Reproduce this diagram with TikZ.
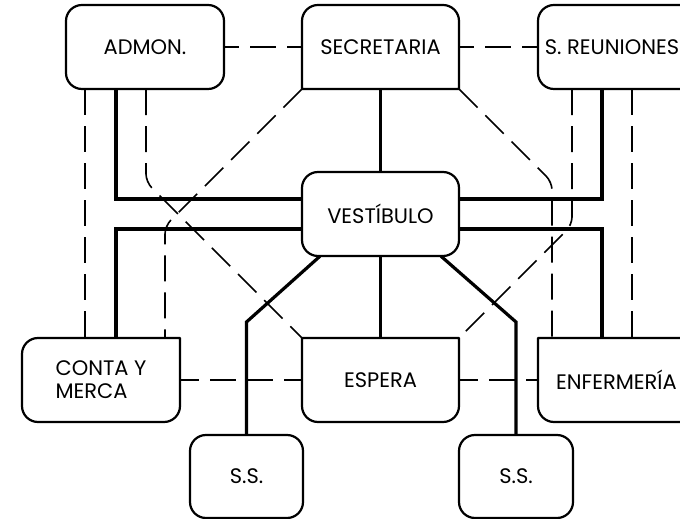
\documentclass[tikz,border=0pt]{standalone}
\usepackage{fontspec}
\setmainfont{Poppins}
\newcommand\rr{16}
\newcommand\roomoutline[8]{%
  \edef\roompath{%
    \ifnum#5=1 (#1,#4-\rr) arc[start angle=180,end angle=90,radius=\rr pt] \else (#1,#4) \fi
    -- \ifnum#6=1 (#3-\rr,#4) arc[start angle=90,end angle=0,radius=\rr pt] \else (#3,#4) \fi
    -- \ifnum#7=1 (#3,#2+\rr) arc[start angle=0,end angle=-90,radius=\rr pt] \else (#3,#2) \fi
    -- \ifnum#8=1 (#1+\rr,#2) arc[start angle=270,end angle=180,radius=\rr pt] \else (#1,#2) \fi
    -- cycle}%
  \draw[boxline] \roompath;}
\tikzset{
  boxline/.style={line width=2.2pt, line join=round},
  room/.style={inner sep=0pt, font=\fontsize{21}{23}\selectfont, align=left},
  dashline/.style={line width=1.6pt, dash pattern=on 26pt off 11pt},
  shortdash/.style={dashline, dash phase=11pt},
  thickline/.style={line width=3.2pt},
  midline/.style={line width=2.8pt}
}
\begin{document}
\begin{tikzpicture}[x=1pt,y=1pt]
\useasboundingbox (0,0) rectangle (680,519);
\clip (0,0) rectangle (680,519);
% nodes
\node[room, minimum width=158pt, minimum height=84pt] (admon) at (145,472) {ADMON.};
\node[room, minimum width=157pt, minimum height=84pt] (sec) at (380.5,472) {SECRETARIA};
\node[room, minimum width=148pt, minimum height=84pt] (sreu) at (612,472) {S. REUNIONES};
\node[room, minimum width=157pt, minimum height=84pt] (vest) at (380.5,305) {VESTÍBULO};
\node[room, minimum width=158pt, minimum height=84pt] (conta) at (101,139) {CONTA Y\\MERCA};
\node[room, minimum width=157pt, minimum height=84pt] (espera) at (380.5,139) {ESPERA};
\node[room, minimum width=157pt, minimum height=84pt] (enf) at (616.5,139) {ENFERMERÍA};
\node[room, minimum width=113pt, minimum height=83pt] (ssl) at (246.5,42.5) {S.S.};
\node[room, minimum width=114pt, minimum height=83pt] (ssr) at (516,42.5) {S.S.};
% outlines
\roomoutline{66}{430}{224}{514}{1}{1}{1}{1}
\roomoutline{302}{430}{459}{514}{1}{1}{0}{0}
\roomoutline{538}{430}{695}{514}{1}{1}{1}{1}
\roomoutline{302}{263}{459}{347}{1}{1}{1}{1}
\roomoutline{22}{97}{180}{181}{1}{0}{1}{1}
\roomoutline{302}{97}{459}{181}{0}{0}{1}{1}
\roomoutline{538}{97}{695}{181}{0}{1}{1}{1}
\roomoutline{190}{1}{303}{84}{1}{1}{1}{1}
\roomoutline{459}{1}{573}{84}{1}{1}{1}{1}
% connectors
\draw[shortdash] (admon.east) -- (sec.west);
\draw[shortdash] (sec.east) -- (sreu.west);
\draw[dashline] (85,0 |- admon.south) -- (85,0 |- conta.north);
\draw[thickline] (116,0 |- admon.south) |- (vest.west |- 0,320);
\draw[thickline] (vest.west |- 0,290) -| (116,0 |- conta.north);
\draw[dashline, rounded corners=8pt] (146,0 |- admon.south) -- (146,337) -- (espera.north west);
\draw[dashline, rounded corners=8pt] (sec.south west) -- (165,293) -- (165,0 |- conta.north);
\draw[midline] (sec.south) -- (vest.north);
\draw[dashline, rounded corners=8pt] (sec.south east) -- (552,337) -- (552,0 |- enf.north);
\draw[dashline, rounded corners=8pt] (572,0 |- sreu.south) -- (572,294) -- (espera.north east);
\draw[thickline] (602,0 |- sreu.south) |- (vest.east |- 0,320);
\draw[thickline] (vest.east |- 0,290) -| (602,0 |- enf.north);
\draw[dashline] (632,0 |- sreu.south) -- (632,0 |- enf.north);
\draw[midline] (vest.south) -- (espera.north);
\draw[thickline] (320,0 |- vest.south) -- (ssl.north |- 0,197) -- (ssl.north);
\draw[thickline] (441,0 |- vest.south) -- (ssr.north |- 0,197) -- (ssr.north);
\draw[dashline, dash phase=7pt] (conta.east) -- (espera.west);
\draw[dashline, dash phase=7pt] (espera.east) -- (enf.west);
\end{tikzpicture}
\end{document}
